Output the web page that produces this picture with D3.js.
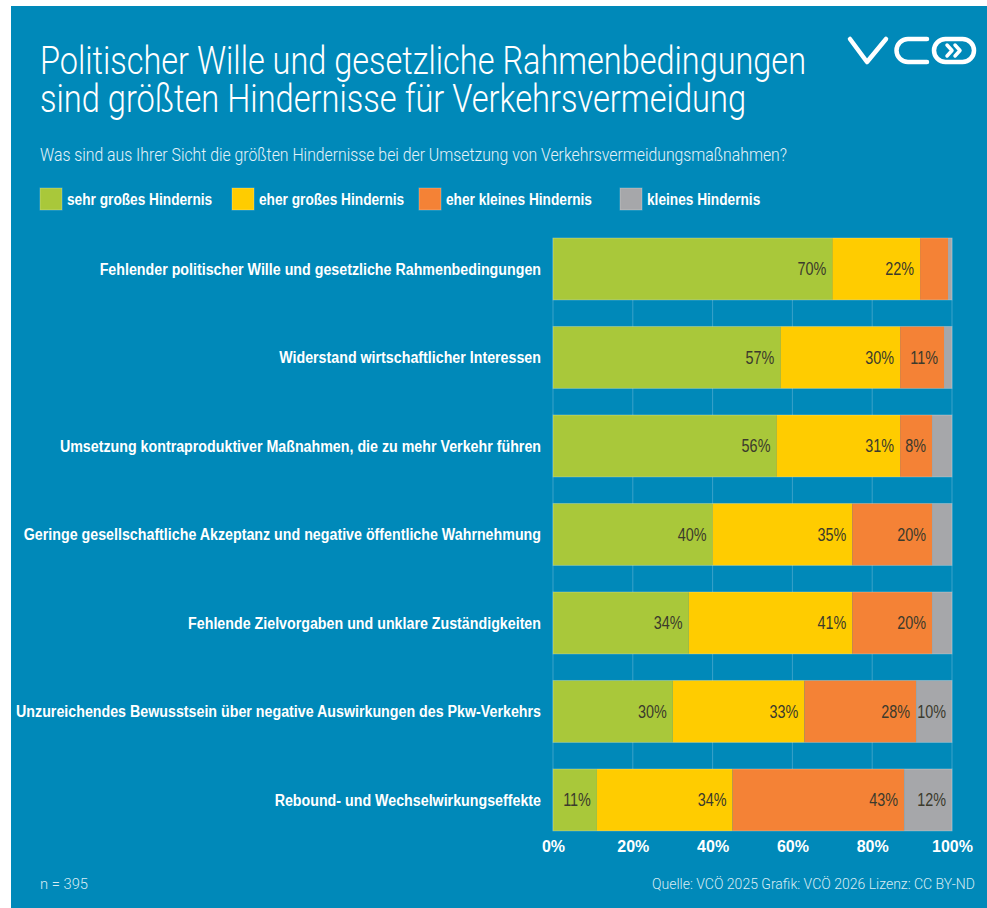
<!DOCTYPE html>
<head>
    <meta charset="utf-8">
    <title>Hindernisse Verkehrsvermeidung</title>
    <style>
        body { margin: 0; background: #fff; }
        text { font-family: "Liberation Sans", Arial, sans-serif; }
    </style>
</head>

<body>

    <script src="https://d3js.org/d3.v7.min.js"></script>

    <script>

        // data
        var categories = [
            "Fehlender politischer Wille und gesetzliche Rahmenbedingungen",
            "Widerstand wirtschaftlicher Interessen",
            "Umsetzung kontraproduktiver Maßnahmen, die zu mehr Verkehr führen",
            "Geringe gesellschaftliche Akzeptanz und negative öffentliche Wahrnehmung",
            "Fehlende Zielvorgaben und unklare Zuständigkeiten",
            "Unzureichendes Bewusstsein über negative Auswirkungen des Pkw-Verkehrs",
            "Rebound- und Wechselwirkungseffekte"
        ];
        var seriesNames = ["sehr großes Hindernis", "eher großes Hindernis", "eher kleines Hindernis", "kleines Hindernis"];
        var sehrGross   = [70, 57, 56, 40, 34, 30, 11];
        var eherGross   = [22, 30, 31, 35, 41, 33, 34];
        var eherKlein   = [7, 11, 8, 20, 20, 28, 43];
        var klein       = [1, 2, 5, 5, 5, 10, 12];
        var xTicks = [0, 20, 40, 60, 80, 100];

        var colors = ["#a9c83a", "#ffcc00", "#f48236", "#a6a7aa"];
        var bg = "#0089b9";

        var W = 987, H = 908;

        // squeeze text horizontally (no narrow font installed)
        function condense(sel, k) {
            sel.each(function () {
                var w = this.getComputedTextLength();
                d3.select(this).attr('textLength', w * k).attr('lengthAdjust', 'spacingAndGlyphs');
            });
        }

        var svg = d3.select('body').append('svg')
            .attr('width', W)
            .attr('height', H);

        svg.append('rect')
            .attr('x', 11).attr('y', 6)
            .attr('width', W - 11).attr('height', H - 6)
            .attr('fill', bg);

        // title
        var title = svg.append('g').attr('fill', '#ffffff');
        title.append('text')
            .attr('x', 40).attr('y', 74)
            .style('font-family', 'Roboto, sans-serif')
            .style('font-weight', 300)
            .style('font-size', '38px')
            .attr('textLength', 766).attr('lengthAdjust', 'spacingAndGlyphs')
            .text("Politischer Wille und gesetzliche Rahmenbedingungen");
        title.append('text')
            .attr('x', 40).attr('y', 112)
            .style('font-family', 'Roboto, sans-serif')
            .style('font-weight', 300)
            .style('font-size', '38px')
            .attr('textLength', 706).attr('lengthAdjust', 'spacingAndGlyphs')
            .text("sind größten Hindernisse für Verkehrsvermeidung");
        svg.append('text')
            .attr('x', 40).attr('y', 161)
            .attr('fill', '#e6f3f9')
            .style('font-family', 'Roboto, sans-serif')
            .style('font-weight', 300)
            .style('font-size', '18px')
            .attr('textLength', 747).attr('lengthAdjust', 'spacingAndGlyphs')
            .text("Was sind aus Ihrer Sicht die größten Hindernisse bei der Umsetzung von Verkehrsvermeidungsmaßnahmen?");

        // logo
        var logo = svg.append('g')
            .attr('fill', 'none')
            .attr('stroke', '#ffffff')
            .attr('stroke-width', 4.5)
            .attr('stroke-linecap', 'round')
            .attr('stroke-linejoin', 'round');
        logo.append('path').attr('d', 'M850,39 L867,62 L886,39');
        logo.append('path').attr('d', 'M927,39 H908 A11.5,11.5 0 0 0 908,62 H927');
        logo.append('rect').attr('x', 934).attr('y', 39).attr('width', 40).attr('height', 23).attr('rx', 11.5);
        logo.append('path').attr('stroke-width', 3.5).attr('d', 'M947,45 L952,50.5 L947,56 M955,45 L960,50.5 L955,56');

        // legend
        var legendX = [40, 232, 419, 620];
        var legend = svg.selectAll('.legend')
            .data(seriesNames)
            .enter().append('g')
            .attr('class', 'legend')
            .attr('transform', function (d, i) { return 'translate(' + legendX[i] + ',188)'; });
        legend.append('rect')
            .attr('width', 22).attr('height', 22)
            .attr('fill', function (d, i) { return colors[i]; })
            .attr('stroke', 'rgba(255,255,255,0.25)');
        legend.append('text')
            .attr('x', 27).attr('y', 17)
            .attr('fill', '#ffffff')
            .style('font-weight', 'bold')
            .style('font-size', '16px')
            .text(function (d) { return d; })
            .call(condense, 0.855);

        // scales
        var x = d3.scaleLinear().domain([0, 100]).range([553, 952]).clamp(true);
        var y = d3.scaleBand().domain(categories).range([224.7, 844.2]).paddingInner(0.3).paddingOuter(0.15);

        // grid
        svg.append('g').selectAll('line')
            .data(xTicks)
            .enter().append('line')
            .attr('x1', function (d) { return x(d); })
            .attr('x2', function (d) { return x(d); })
            .attr('y1', y(categories[0]))
            .attr('y2', y(categories[categories.length - 1]) + y.bandwidth())
            .attr('stroke', '#3aa2c9')
            .attr('stroke-width', 1);

        // stack
        var rows = categories.map(function (c, i) {
            return { cat: c, s0: sehrGross[i], s1: eherGross[i], s2: eherKlein[i], s3: klein[i] };
        });
        var keys = ['s0', 's1', 's2', 's3'];
        var stacked = d3.stack().keys(keys)(rows);

        var layer = svg.selectAll('.layer')
            .data(stacked)
            .enter().append('g')
            .attr('class', 'layer')
            .attr('fill', function (d, i) { return colors[i]; });

        layer.selectAll('rect')
            .data(function (d) { return d; })
            .enter().append('rect')
            .attr('x', function (d) { return x(d[0]); })
            .attr('y', function (d) { return y(d.data.cat); })
            .attr('width', function (d) { return x(d[1]) - x(d[0]); })
            .attr('height', y.bandwidth());

        // thin bar outline
        svg.append('g').selectAll('rect')
            .data(categories)
            .enter().append('rect')
            .attr('x', x(0)).attr('y', function (d) { return y(d); })
            .attr('width', x(100) - x(0)).attr('height', y.bandwidth())
            .attr('fill', 'none')
            .attr('stroke', 'rgba(255,255,255,0.25)')
            .attr('stroke-width', 1);

        // value labels
        layer.selectAll('.val')
            .data(function (d) { var k = d.key; return d.map(function (p) { return { p: p, v: p.data[k] }; }); })
            .enter().filter(function (d) { return d.v >= 8; })
            .append('text')
            .attr('x', function (d) { return x(d.p[1]) - 6; })
            .attr('y', function (d) { return y(d.p.data.cat) + y.bandwidth() / 2; })
            .attr('dy', '.36em')
            .attr('text-anchor', 'end')
            .attr('fill', '#3b3a2c')
            .style('font-size', '18px')
            .text(function (d) { return d.v + '%'; })
            .call(condense, 0.8);

        // category labels
        svg.append('g').selectAll('text')
            .data(categories)
            .enter().append('text')
            .attr('x', 541)
            .attr('y', function (d) { return y(d) + y.bandwidth() / 2; })
            .attr('dy', '.36em')
            .attr('text-anchor', 'end')
            .attr('fill', '#ffffff')
            .style('font-weight', 'bold')
            .style('font-size', '16px')
            .text(function (d) { return d; })
            .call(condense, 0.89);

        // x axis
        var xAxis = d3.axisBottom(x)
            .tickValues(xTicks)
            .tickSize(0)
            .tickPadding(0)
            .tickFormat(function (d) { return d + '%'; });
        var ax = svg.append('g')
            .attr('transform', 'translate(0,841)')
            .call(xAxis);
        ax.select('.domain').remove();
        ax.selectAll('text')
            .attr('fill', '#ffffff')
            .style('font-family', '"Liberation Sans", Arial, sans-serif')
            .style('font-weight', 'bold')
            .style('font-size', '16px');

        // footer
        svg.append('text')
            .attr('x', 40).attr('y', 889)
            .attr('fill', '#d8ecf4')
            .style('font-family', 'Roboto, sans-serif')
            .style('font-weight', 300)
            .style('font-size', '15px')
            .attr('textLength', 48).attr('lengthAdjust', 'spacingAndGlyphs')
            .text("n = 395");
        svg.append('text')
            .attr('x', 975).attr('y', 889)
            .attr('text-anchor', 'end')
            .attr('fill', '#d8ecf4')
            .style('font-family', 'Roboto, sans-serif')
            .style('font-weight', 300)
            .style('font-size', '15px')
            .attr('textLength', 323).attr('lengthAdjust', 'spacingAndGlyphs')
            .text("Quelle: VCÖ 2025 Grafik: VCÖ 2026 Lizenz: CC BY-ND");

    </script>

</body>
